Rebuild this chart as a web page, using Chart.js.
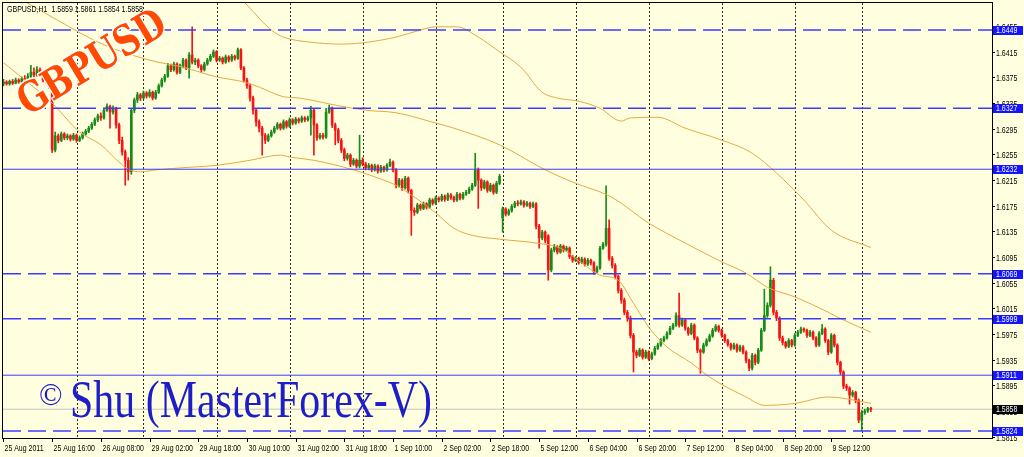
<!DOCTYPE html>
<html>
<head>
<meta charset="utf-8">
<title>GBPUSD H1</title>
<script src="https://cdn.jsdelivr.net/npm/chart.js@4/dist/chart.umd.min.js"></script>
<style>
    html, body { margin: 0; padding: 0; background: #ffffe0; overflow: hidden; }
    #chartCanvas { display: block; }
</style>
</head>
<body>
<canvas id="chartCanvas" width="1024" height="457"></canvas>
<script>
const symbolName = 'GBPUSD,H1';

// Stundenkerzen, eine Zeile = 10 Kerzen
const opens = [
    1.6365, 1.6368, 1.6365, 1.6369, 1.6366, 1.6371, 1.6368, 1.6373, 1.6371, 1.6377,
    1.6383, 1.6379, 1.6387, 1.6380, 1.6371, 1.6374, 1.6362, 1.6262, 1.6284, 1.6277,
    1.6287, 1.6281, 1.6284, 1.6279, 1.6285, 1.6277, 1.6281, 1.6287, 1.6291, 1.6296,
    1.6302, 1.6309, 1.6315, 1.6312, 1.6324, 1.6330, 1.6321, 1.6327, 1.6301, 1.6277,
    1.6259, 1.6246, 1.6228, 1.6324, 1.6340, 1.6348, 1.6343, 1.6351, 1.6346, 1.6352,
    1.6343, 1.6352, 1.6362, 1.6371, 1.6377, 1.6393, 1.6387, 1.6396, 1.6383, 1.6393,
    1.6402, 1.6390, 1.6410, 1.6399, 1.6402, 1.6393, 1.6387, 1.6396, 1.6402, 1.6408,
    1.6415, 1.6402, 1.6405, 1.6399, 1.6407, 1.6402, 1.6408, 1.6405, 1.6418, 1.6390,
    1.6371, 1.6362, 1.6343, 1.6324, 1.6306, 1.6296, 1.6285, 1.6277, 1.6284, 1.6290,
    1.6296, 1.6302, 1.6296, 1.6306, 1.6299, 1.6309, 1.6304, 1.6310, 1.6307, 1.6312,
    1.6309, 1.6312, 1.6324, 1.6301, 1.6281, 1.6285, 1.6282, 1.6321, 1.6327, 1.6301,
    1.6293, 1.6277, 1.6262, 1.6249, 1.6254, 1.6240, 1.6246, 1.6237, 1.6246, 1.6240,
    1.6234, 1.6238, 1.6231, 1.6237, 1.6229, 1.6235, 1.6231, 1.6238, 1.6243, 1.6231,
    1.6207, 1.6215, 1.6203, 1.6218, 1.6199, 1.6168, 1.6165, 1.6176, 1.6171, 1.6178,
    1.6173, 1.6184, 1.6179, 1.6187, 1.6184, 1.6190, 1.6185, 1.6192, 1.6188, 1.6184,
    1.6193, 1.6187, 1.6193, 1.6196, 1.6201, 1.6207, 1.6231, 1.6215, 1.6203, 1.6212,
    1.6199, 1.6207, 1.6196, 1.6210, 1.6156, 1.6170, 1.6162, 1.6167, 1.6174, 1.6179,
    1.6178, 1.6181, 1.6176, 1.6179, 1.6174, 1.6178, 1.6143, 1.6125, 1.6134, 1.6128,
    1.6075, 1.6106, 1.6111, 1.6103, 1.6112, 1.6106, 1.6109, 1.6096, 1.6090, 1.6093,
    1.6087, 1.6092, 1.6084, 1.6090, 1.6086, 1.6072, 1.6078, 1.6109, 1.6115, 1.6140,
    1.6093, 1.6082, 1.6065, 1.6043, 1.6028, 1.6009, 1.6000, 1.5973, 1.5947, 1.5942,
    1.5950, 1.5939, 1.5947, 1.5937, 1.5944, 1.5953, 1.5958, 1.5965, 1.5969, 1.5976,
    1.5984, 1.5989, 1.6004, 1.5989, 1.5997, 1.5984, 1.5976, 1.5989, 1.5969, 1.5950,
    1.5947, 1.5958, 1.5965, 1.5972, 1.5981, 1.5987, 1.5981, 1.5973, 1.5965, 1.5959,
    1.5953, 1.5958, 1.5950, 1.5955, 1.5947, 1.5934, 1.5922, 1.5942, 1.5931, 1.5950,
    1.5981, 1.6004, 1.6020, 1.6059, 1.6009, 1.6000, 1.5969, 1.5962, 1.5956, 1.5965,
    1.5958, 1.5973, 1.5978, 1.5983, 1.5981, 1.5973, 1.5978, 1.5969, 1.5958, 1.5976,
    1.5983, 1.5965, 1.5947, 1.5973, 1.5958, 1.5931, 1.5916, 1.5894, 1.5891, 1.5880,
    1.5884, 1.5872, 1.5841, 1.5853, 1.5855, 1.5859
];

const highs = [
    1.6372, 1.6370, 1.6371, 1.6372, 1.6374, 1.6373, 1.6376, 1.6378, 1.6381, 1.6394,
    1.6390, 1.6392, 1.6390, 1.6383, 1.6377, 1.6376, 1.6364, 1.6290, 1.6287, 1.6290,
    1.6289, 1.6287, 1.6286, 1.6288, 1.6287, 1.6284, 1.6290, 1.6294, 1.6299, 1.6305,
    1.6312, 1.6318, 1.6320, 1.6327, 1.6334, 1.6332, 1.6331, 1.6329, 1.6304, 1.6282,
    1.6262, 1.6250, 1.6327, 1.6343, 1.6352, 1.6350, 1.6354, 1.6353, 1.6356, 1.6354,
    1.6355, 1.6365, 1.6374, 1.6380, 1.6397, 1.6396, 1.6399, 1.6398, 1.6396, 1.6405,
    1.6404, 1.6414, 1.6454, 1.6405, 1.6404, 1.6395, 1.6399, 1.6405, 1.6411, 1.6418,
    1.6417, 1.6408, 1.6407, 1.6410, 1.6409, 1.6411, 1.6410, 1.6421, 1.6420, 1.6392,
    1.6374, 1.6365, 1.6346, 1.6327, 1.6309, 1.6299, 1.6288, 1.6287, 1.6293, 1.6299,
    1.6305, 1.6304, 1.6309, 1.6308, 1.6312, 1.6311, 1.6313, 1.6312, 1.6315, 1.6314,
    1.6315, 1.6330, 1.6326, 1.6303, 1.6288, 1.6288, 1.6327, 1.6332, 1.6329, 1.6304,
    1.6296, 1.6280, 1.6265, 1.6257, 1.6256, 1.6249, 1.6248, 1.6285, 1.6250, 1.6243,
    1.6241, 1.6240, 1.6240, 1.6239, 1.6238, 1.6237, 1.6241, 1.6248, 1.6245, 1.6233,
    1.6218, 1.6217, 1.6221, 1.6220, 1.6201, 1.6172, 1.6179, 1.6178, 1.6181, 1.6180,
    1.6187, 1.6186, 1.6190, 1.6189, 1.6193, 1.6192, 1.6195, 1.6194, 1.6190, 1.6196,
    1.6195, 1.6196, 1.6199, 1.6204, 1.6210, 1.6257, 1.6234, 1.6217, 1.6215, 1.6214,
    1.6210, 1.6209, 1.6213, 1.6224, 1.6173, 1.6172, 1.6170, 1.6177, 1.6182, 1.6183,
    1.6184, 1.6183, 1.6182, 1.6181, 1.6181, 1.6180, 1.6146, 1.6137, 1.6136, 1.6130,
    1.6109, 1.6115, 1.6113, 1.6115, 1.6114, 1.6112, 1.6111, 1.6098, 1.6096, 1.6095,
    1.6095, 1.6094, 1.6093, 1.6092, 1.6088, 1.6081, 1.6112, 1.6118, 1.6206, 1.6153,
    1.6096, 1.6085, 1.6067, 1.6046, 1.6031, 1.6012, 1.6003, 1.5976, 1.5950, 1.5953,
    1.5952, 1.5950, 1.5949, 1.5947, 1.5956, 1.5961, 1.5968, 1.5972, 1.5979, 1.5987,
    1.5992, 1.6008, 1.6039, 1.6000, 1.5999, 1.5986, 1.5992, 1.5991, 1.5971, 1.5952,
    1.5961, 1.5968, 1.5975, 1.5984, 1.5990, 1.5989, 1.5983, 1.5975, 1.5967, 1.5961,
    1.5961, 1.5960, 1.5958, 1.5957, 1.5949, 1.5936, 1.5945, 1.5944, 1.5953, 1.5984,
    1.6045, 1.6024, 1.6080, 1.6062, 1.6012, 1.6002, 1.5972, 1.5964, 1.5968, 1.5967,
    1.5976, 1.5981, 1.5986, 1.5985, 1.5983, 1.5981, 1.5980, 1.5971, 1.5979, 1.5990,
    1.5985, 1.5967, 1.5976, 1.5975, 1.5960, 1.5933, 1.5918, 1.5897, 1.5893, 1.5887,
    1.5886, 1.5874, 1.5856, 1.5858, 1.5861, 1.5861
];

const lows = [
    1.6362, 1.6363, 1.6363, 1.6364, 1.6365, 1.6366, 1.6366, 1.6369, 1.6369, 1.6375,
    1.6376, 1.6377, 1.6378, 1.6368, 1.6366, 1.6358, 1.6258, 1.6259, 1.6273, 1.6275,
    1.6278, 1.6278, 1.6276, 1.6277, 1.6274, 1.6275, 1.6279, 1.6285, 1.6289, 1.6294,
    1.6300, 1.6306, 1.6308, 1.6310, 1.6322, 1.6296, 1.6318, 1.6296, 1.6272, 1.6254,
    1.6207, 1.6215, 1.6224, 1.6320, 1.6336, 1.6339, 1.6341, 1.6343, 1.6344, 1.6340,
    1.6341, 1.6350, 1.6360, 1.6368, 1.6375, 1.6384, 1.6385, 1.6380, 1.6381, 1.6390,
    1.6387, 1.6374, 1.6396, 1.6395, 1.6390, 1.6383, 1.6385, 1.6394, 1.6400, 1.6406,
    1.6399, 1.6400, 1.6396, 1.6397, 1.6399, 1.6400, 1.6402, 1.6403, 1.6387, 1.6368,
    1.6358, 1.6338, 1.6318, 1.6299, 1.6290, 1.6254, 1.6272, 1.6275, 1.6282, 1.6288,
    1.6294, 1.6293, 1.6294, 1.6296, 1.6297, 1.6301, 1.6302, 1.6304, 1.6305, 1.6306,
    1.6307, 1.6285, 1.6254, 1.6277, 1.6279, 1.6279, 1.6280, 1.6319, 1.6297, 1.6270,
    1.6273, 1.6258, 1.6245, 1.6246, 1.6236, 1.6238, 1.6234, 1.6234, 1.6237, 1.6231,
    1.6231, 1.6228, 1.6229, 1.6226, 1.6227, 1.6228, 1.6229, 1.6236, 1.6228, 1.6203,
    1.6204, 1.6199, 1.6201, 1.6195, 1.6129, 1.6160, 1.6163, 1.6168, 1.6169, 1.6170,
    1.6171, 1.6176, 1.6177, 1.6181, 1.6182, 1.6182, 1.6183, 1.6185, 1.6181, 1.6182,
    1.6184, 1.6185, 1.6191, 1.6194, 1.6199, 1.6205, 1.6171, 1.6199, 1.6201, 1.6196,
    1.6197, 1.6193, 1.6194, 1.6208, 1.6134, 1.6159, 1.6160, 1.6165, 1.6172, 1.6175,
    1.6176, 1.6173, 1.6174, 1.6171, 1.6172, 1.6139, 1.6109, 1.6122, 1.6117, 1.6059,
    1.6072, 1.6103, 1.6100, 1.6101, 1.6103, 1.6104, 1.6093, 1.6087, 1.6088, 1.6084,
    1.6085, 1.6081, 1.6082, 1.6083, 1.6068, 1.6070, 1.6076, 1.6107, 1.6112, 1.6090,
    1.6078, 1.6061, 1.6039, 1.6023, 1.6005, 1.5995, 1.5969, 1.5916, 1.5938, 1.5940,
    1.5936, 1.5937, 1.5934, 1.5935, 1.5942, 1.5951, 1.5956, 1.5963, 1.5967, 1.5974,
    1.5982, 1.5987, 1.5986, 1.5987, 1.5981, 1.5973, 1.5974, 1.5966, 1.5946, 1.5914,
    1.5945, 1.5956, 1.5963, 1.5970, 1.5979, 1.5978, 1.5970, 1.5962, 1.5956, 1.5950,
    1.5951, 1.5947, 1.5948, 1.5944, 1.5930, 1.5918, 1.5919, 1.5927, 1.5929, 1.5948,
    1.5979, 1.6001, 1.6017, 1.6005, 1.5996, 1.5965, 1.5958, 1.5953, 1.5954, 1.5955,
    1.5956, 1.5971, 1.5976, 1.5978, 1.5970, 1.5971, 1.5966, 1.5955, 1.5956, 1.5974,
    1.5962, 1.5943, 1.5945, 1.5955, 1.5927, 1.5912, 1.5890, 1.5887, 1.5866, 1.5877,
    1.5868, 1.5837, 1.5825, 1.5850, 1.5853, 1.5854
];

const closes = [
    1.6368, 1.6365, 1.6369, 1.6366, 1.6371, 1.6368, 1.6373, 1.6371, 1.6377, 1.6383,
    1.6379, 1.6387, 1.6380, 1.6371, 1.6374, 1.6362, 1.6262, 1.6284, 1.6277, 1.6287,
    1.6281, 1.6284, 1.6279, 1.6285, 1.6277, 1.6281, 1.6287, 1.6291, 1.6296, 1.6302,
    1.6309, 1.6315, 1.6312, 1.6324, 1.6330, 1.6321, 1.6327, 1.6301, 1.6277, 1.6259,
    1.6246, 1.6228, 1.6324, 1.6340, 1.6348, 1.6343, 1.6351, 1.6346, 1.6352, 1.6343,
    1.6352, 1.6362, 1.6371, 1.6377, 1.6393, 1.6387, 1.6396, 1.6383, 1.6393, 1.6402,
    1.6390, 1.6410, 1.6399, 1.6402, 1.6393, 1.6387, 1.6396, 1.6402, 1.6408, 1.6415,
    1.6402, 1.6405, 1.6399, 1.6407, 1.6402, 1.6408, 1.6405, 1.6418, 1.6390, 1.6371,
    1.6362, 1.6343, 1.6324, 1.6306, 1.6296, 1.6285, 1.6277, 1.6284, 1.6290, 1.6296,
    1.6302, 1.6296, 1.6306, 1.6299, 1.6309, 1.6304, 1.6310, 1.6307, 1.6312, 1.6309,
    1.6312, 1.6324, 1.6301, 1.6281, 1.6285, 1.6282, 1.6321, 1.6327, 1.6301, 1.6293,
    1.6277, 1.6262, 1.6249, 1.6254, 1.6240, 1.6246, 1.6237, 1.6246, 1.6240, 1.6234,
    1.6238, 1.6231, 1.6237, 1.6229, 1.6235, 1.6231, 1.6238, 1.6243, 1.6231, 1.6207,
    1.6215, 1.6203, 1.6218, 1.6199, 1.6168, 1.6165, 1.6176, 1.6171, 1.6178, 1.6173,
    1.6184, 1.6179, 1.6187, 1.6184, 1.6190, 1.6185, 1.6192, 1.6188, 1.6184, 1.6193,
    1.6187, 1.6193, 1.6196, 1.6201, 1.6207, 1.6231, 1.6215, 1.6203, 1.6212, 1.6199,
    1.6207, 1.6196, 1.6210, 1.6221, 1.6170, 1.6162, 1.6167, 1.6174, 1.6179, 1.6178,
    1.6181, 1.6176, 1.6179, 1.6174, 1.6178, 1.6143, 1.6125, 1.6134, 1.6121, 1.6075,
    1.6106, 1.6111, 1.6103, 1.6112, 1.6106, 1.6109, 1.6096, 1.6090, 1.6093, 1.6087,
    1.6092, 1.6084, 1.6090, 1.6086, 1.6072, 1.6078, 1.6109, 1.6115, 1.6140, 1.6093,
    1.6082, 1.6065, 1.6043, 1.6028, 1.6009, 1.6000, 1.5973, 1.5947, 1.5942, 1.5950,
    1.5939, 1.5947, 1.5937, 1.5944, 1.5953, 1.5958, 1.5965, 1.5969, 1.5976, 1.5984,
    1.5989, 1.6004, 1.5989, 1.5997, 1.5984, 1.5976, 1.5989, 1.5969, 1.5950, 1.5947,
    1.5958, 1.5965, 1.5972, 1.5981, 1.5987, 1.5981, 1.5973, 1.5965, 1.5959, 1.5953,
    1.5958, 1.5950, 1.5955, 1.5947, 1.5934, 1.5922, 1.5942, 1.5931, 1.5950, 1.5981,
    1.6004, 1.6020, 1.6059, 1.6009, 1.6000, 1.5969, 1.5962, 1.5956, 1.5965, 1.5958,
    1.5973, 1.5978, 1.5983, 1.5981, 1.5973, 1.5978, 1.5969, 1.5958, 1.5976, 1.5983,
    1.5965, 1.5947, 1.5973, 1.5958, 1.5931, 1.5916, 1.5894, 1.5891, 1.5880, 1.5884,
    1.5872, 1.5841, 1.5853, 1.5855, 1.5859, 1.5858
];

const maUpperBars = [73, 80, 88, 92, 101, 111, 118, 129, 137, 142, 149, 156, 163, 170, 177, 182, 189, 196, 203, 206, 215, 224, 235, 246, 254, 263, 272, 285];
const maUpper = [1.6522, 1.6488, 1.6449, 1.6438, 1.6430, 1.6427, 1.6429, 1.6438, 1.6449, 1.6454, 1.6454, 1.6438, 1.6415, 1.6391, 1.6352, 1.6343, 1.6338, 1.6327, 1.6307, 1.6312, 1.6313, 1.6296, 1.6279, 1.6257, 1.6226, 1.6184, 1.6137, 1.6110];

const maMiddleBars = [0, 16, 33, 48, 59, 70, 79, 84, 92, 97, 109, 119, 129, 142, 148, 163, 178, 187, 200, 212, 224, 235, 244, 251, 260, 271, 276, 285];
const maMiddle = [1.6513, 1.6469, 1.6426, 1.6402, 1.6391, 1.6376, 1.6368, 1.6360, 1.6345, 1.6343, 1.6332, 1.6324, 1.6320, 1.6304, 1.6296, 1.6270, 1.6231, 1.6212, 1.6188, 1.6148, 1.6117, 1.6090, 1.6070, 1.6048, 1.6033, 1.6009, 1.5997, 1.5978];

const maLowerBars = [0, 5, 16, 25, 32, 38, 41, 45, 50, 61, 70, 81, 91, 94, 102, 115, 125, 129, 134, 142, 148, 154, 163, 175, 183, 190, 196, 202, 207, 212, 218, 226, 232, 244, 250, 260, 271, 276, 285];
const maLower = [1.6398, 1.6379, 1.6335, 1.6290, 1.6270, 1.6243, 1.6232, 1.6228, 1.6231, 1.6235, 1.6238, 1.6246, 1.6254, 1.6251, 1.6246, 1.6231, 1.6215, 1.6207, 1.6192, 1.6164, 1.6140, 1.6129, 1.6123, 1.6117, 1.6109, 1.6086, 1.6067, 1.6059, 1.6023, 1.5986, 1.5955, 1.5930, 1.5908, 1.5877, 1.5864, 1.5867, 1.5877, 1.5875, 1.5867];

// Zeitachse (alle 16 Kerzen) und Tagestrenner
const xTickBars = [0, 16, 32, 48, 64, 80, 96, 112, 128, 144, 160, 176, 192, 208, 224, 240, 256, 272];
const xTickLabels = ['25 Aug 2011', '25 Aug 16:00', '26 Aug 08:00', '29 Aug 02:00', '29 Aug 18:00', '30 Aug 10:00',
    '31 Aug 02:00', '31 Aug 18:00', '1 Sep 10:00', '2 Sep 02:00', '2 Sep 18:00', '5 Sep 12:00',
    '6 Sep 04:00', '6 Sep 20:00', '7 Sep 12:00', '8 Sep 04:00', '8 Sep 20:00', '9 Sep 12:00'];
const daySeparatorBars = [24, 46, 70, 94, 118, 142, 164, 188, 212, 236, 260, 282];

// Preisachse
const yTickValues = [1.5815, 1.5855, 1.5895, 1.5935, 1.5975, 1.6015, 1.6055, 1.6095, 1.6135,
    1.6175, 1.6215, 1.6255, 1.6295, 1.6335, 1.6375, 1.6415, 1.6455];

// Horizontale Linien
const dashedLevels = [1.6449, 1.6327, 1.6069, 1.5999, 1.5824];
const solidLevels = [1.6232, 1.5911];
const bidPrice = 1.5858;

const xMin = -0.16;
const xMax = 324.8;
const yMin = 1.58131;
const yMax = 1.64911;

const colors = {
    background: '#ffffe0',
    up: '#188c18',
    down: '#f81414',
    ma: '#e4aa44',
    level: '#3c3cff',
    levelBox: '#1414ff',
    bidLine: '#c4c4c4',
    separator: '#2a2a2a',
    signature: '#1e1ec8',
    watermark: '#ff4a00',
};

function candleColor(context)
{
    const i = context.dataIndex;
    return closes[i] >= opens[i] ? colors.up : colors.down;
}

function toPoints(bars, values)
{
    return bars.map((bar, i) => ({ x: bar, y: values[i] }));
}

function maDataset(bars, values)
{
    return {
        type: 'line',
        data: toPoints(bars, values),
        borderColor: colors.ma,
        borderWidth: 1,
        pointRadius: 0,
        cubicInterpolationMode: 'monotone',
        order: 2,
    };
}

function levelDataset(value, dashed, color, order)
{
    return {
        type: 'line',
        data: [{ x: xMin, y: value }, { x: xMax, y: value }],
        borderColor: color,
        borderWidth: dashed ? 1.4 : 1,
        borderDash: dashed ? [18, 7] : [],
        pointRadius: 0,
        order: order,
    };
}

// Text leicht gestaucht zeichnen (schmale Terminal-Schrift)
function squeezeText(ctx, text, x, y, sx)
{
    ctx.save();
    ctx.translate(x, y);
    ctx.scale(sx, 1);
    ctx.fillText(text, 0, 0);
    ctx.restore();
}

const axisFont = '8.5px "Liberation Sans", Arial, sans-serif';
const axisSqueeze = 0.82;

function priceBox(ctx, chart, value, fill)
{
    const area = chart.chartArea;
    const py = Math.round(chart.scales.y.getPixelForValue(value));
    ctx.fillStyle = fill;
    ctx.fillRect(area.right + 1, py - 4, 30, 9);
    ctx.fillStyle = '#ffffff';
    ctx.font = axisFont;
    squeezeText(ctx, value.toFixed(4), area.right + 4, py + 3, axisSqueeze);
}

const terminalLook = {
    id: 'terminalLook',
    beforeDraw(chart)
    {
        const ctx = chart.ctx;
        const area = chart.chartArea;
        const xScale = chart.scales.x;

        ctx.save();
        ctx.fillStyle = colors.background;
        ctx.fillRect(0, 0, chart.width, chart.height);

        // Tagestrenner
        ctx.strokeStyle = colors.separator;
        ctx.lineWidth = 1;
        ctx.setLineDash([2, 2]);
        daySeparatorBars.forEach(bar =>
        {
            const px = Math.round(xScale.getPixelForValue(bar)) + 0.5;
            ctx.beginPath();
            ctx.moveTo(px, area.top);
            ctx.lineTo(px, area.bottom);
            ctx.stroke();
        });
        ctx.restore();
    },
    afterDatasetsDraw(chart)
    {
        const ctx = chart.ctx;

        // Wasserzeichen
        ctx.save();
        ctx.translate(91, 61);
        ctx.rotate(-31 * Math.PI / 180);
        ctx.font = 'bold 42px "DejaVu Serif", serif';
        const w = ctx.measureText('GBPUSD').width;
        ctx.scale(165 / w, 1);
        ctx.textAlign = 'center';
        ctx.lineJoin = 'round';
        ctx.lineWidth = 3;
        ctx.strokeStyle = '#ffffff';
        ctx.strokeText('GBPUSD', 0, 15);
        ctx.fillStyle = colors.watermark;
        ctx.fillText('GBPUSD', 0, 15);
        ctx.restore();

        // Signatur
        ctx.save();
        ctx.fillStyle = colors.signature;
        ctx.font = '31px "Liberation Serif", serif';
        ctx.fillText('©', 39, 405);
        ctx.font = '52px "Liberation Serif", serif';
        const sw = ctx.measureText('Shu (MasterForex-V)').width;
        squeezeText(ctx, 'Shu (MasterForex-V)', 70, 417, 362 / sw);
        ctx.restore();
    },
    afterDraw(chart)
    {
        const ctx = chart.ctx;
        const area = chart.chartArea;
        const xScale = chart.scales.x;
        const yScale = chart.scales.y;

        ctx.save();
        ctx.strokeStyle = '#000000';
        ctx.fillStyle = '#000000';
        ctx.lineWidth = 1;
        ctx.strokeRect(area.left - 0.5, area.top - 0.5, area.right - area.left + 1, area.bottom - area.top + 1);

        ctx.font = axisFont;

        // Preisachse
        yTickValues.forEach(v =>
        {
            const py = Math.round(yScale.getPixelForValue(v)) + 0.5;
            ctx.beginPath();
            ctx.moveTo(area.right, py);
            ctx.lineTo(area.right + 3, py);
            ctx.stroke();
            squeezeText(ctx, v.toFixed(4), area.right + 4, py + 3, axisSqueeze);
        });

        // Zeitachse
        xTickBars.forEach((bar, k) =>
        {
            const px = Math.round(xScale.getPixelForValue(bar)) + 0.5;
            ctx.beginPath();
            ctx.moveTo(px, area.bottom);
            ctx.lineTo(px, area.bottom + 4);
            ctx.stroke();
            squeezeText(ctx, xTickLabels[k], px + 1, area.bottom + 13, axisSqueeze);
        });

        // Kopfzeile
        const last = closes.length - 1;
        const header = symbolName + '  ' + opens[last].toFixed(4) + ' ' + highs[last].toFixed(4) + ' ' +
            lows[last].toFixed(4) + ' ' + closes[last].toFixed(4);
        ctx.font = '9px "Liberation Sans", Arial, sans-serif';
        const hw = ctx.measureText(header).width;
        squeezeText(ctx, header, 7, 12, 136 / hw);

        // Preisschilder
        dashedLevels.concat(solidLevels).forEach(v => priceBox(ctx, chart, v, colors.levelBox));
        priceBox(ctx, chart, bidPrice, '#000000');
        ctx.restore();
    }
};

const datasets = [
    {
        // Dochte
        data: lows.map((l, i) => ({ x: i, y: [l, highs[i]] })),
        backgroundColor: candleColor,
        barThickness: 1,
        grouped: false,
        order: 4,
    },
    {
        // Kerzenkörper
        data: opens.map((o, i) => ({ x: i, y: [o, closes[i]] })),
        backgroundColor: candleColor,
        barThickness: 2,
        minBarLength: 1,
        grouped: false,
        order: 3,
    },
    maDataset(maUpperBars, maUpper),
    maDataset(maMiddleBars, maMiddle),
    maDataset(maLowerBars, maLower),
    levelDataset(bidPrice, false, colors.bidLine, 5),
];
dashedLevels.forEach(v => datasets.push(levelDataset(v, true, colors.level, 1)));
solidLevels.forEach(v => datasets.push(levelDataset(v, false, colors.level, 1)));

const chart = new Chart(document.getElementById('chartCanvas').getContext('2d'), {
    type: 'bar',
    data: { datasets: datasets },
    options: {
        responsive: false,
        animation: false,
        devicePixelRatio: 1,
        events: [],
        layout: { padding: { left: 3, top: 3, right: 0, bottom: 0 } },
        plugins: {
            legend: { display: false },
            tooltip: { enabled: false },
        },
        scales: {
            x: {
                type: 'linear',
                offset: false,
                bounds: 'data',
                min: xMin,
                max: xMax,
                ticks: { display: false },
                grid: { display: false, offset: false },
                border: { display: false },
                afterFit: scale => { scale.height = 19; },
            },
            y: {
                type: 'linear',
                position: 'right',
                bounds: 'data',
                min: yMin,
                max: yMax,
                ticks: { display: false },
                grid: { display: false },
                border: { display: false },
                afterFit: scale => { scale.width = 32; },
            },
        },
    },
    plugins: [terminalLook],
});
</script>
</body>
</html>
